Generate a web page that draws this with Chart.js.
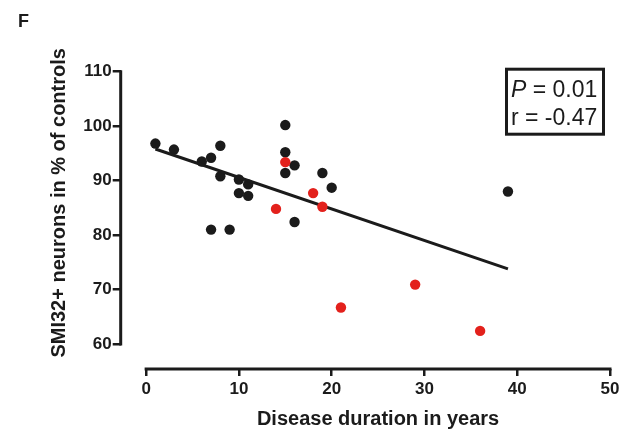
<!DOCTYPE html>
<html>
<head>
<meta charset="utf-8">
<script src="https://cdn.jsdelivr.net/npm/chart.js@4.4.1/dist/chart.umd.min.js"></script>
<style>
  html, body { margin: 0; padding: 0; background: #fff; }
  #wrap { width: 632px; height: 431px; }
</style>
</head>
<body>
<div id="wrap"><canvas id="durationChart" width="632" height="431"></canvas></div>
<script>
// disease duration (years) vs SMI32+ neurons (% of controls)
const blackX = [1, 3, 8, 7, 6, 8, 10, 11, 10, 11, 7, 9, 15, 15, 16, 15, 19, 20, 16, 39];
const blackY = [96.8, 95.7, 96.4, 94.2, 93.5, 90.8, 90.2, 89.3, 87.7, 87.2, 81.0, 81.0, 100.2, 95.2, 92.8, 91.4, 91.4, 88.7, 82.4, 88.0];
const redX = [15, 18, 19, 14, 21, 29, 36];
const redY = [93.4, 87.7, 85.2, 84.8, 66.7, 70.9, 62.4];

// regression line end points
const fitX = [1, 39];
const fitY = [95.8, 73.8];

const xTicks = [0, 10, 20, 30, 40, 50];
const yTicks = [60, 70, 80, 90, 100, 110];

const panelLabel = 'F';
const xTitle = 'Disease duration in years';
const yTitle = 'SMI32+ neurons in % of controls';
const statP = '0.01';
const statR = '-0.47';

const ink = '#1b1b1b';
const red = '#e3211c';
const family = '"Liberation Sans", Arial, Helvetica, sans-serif';

const toPoints = (xs, ys) => xs.map((x, i) => ({ x, y: ys[i] }));

// prism style axes: lines only over the tick range, titles centred on them, plus the stats box
const prismAxes = {
  id: 'prismAxes',
  afterDraw(chart) {
    const { ctx, chartArea, scales: { x, y } } = chart;
    const y0 = y.getPixelForValue(yTicks[0]);
    const y1 = y.getPixelForValue(yTicks[yTicks.length - 1]);
    const x0 = x.getPixelForValue(xTicks[0]);
    const x1 = x.getPixelForValue(xTicks[xTicks.length - 1]);

    ctx.save();
    ctx.strokeStyle = ink;
    ctx.lineWidth = 3;
    ctx.lineCap = 'square';
    ctx.beginPath();
    ctx.moveTo(chartArea.left, y0);
    ctx.lineTo(chartArea.left, y1);
    ctx.moveTo(x0, chartArea.bottom);
    ctx.lineTo(x1, chartArea.bottom);
    ctx.stroke();

    ctx.fillStyle = ink;
    ctx.font = 'bold 20px ' + family;
    ctx.textAlign = 'center';
    ctx.textBaseline = 'middle';
    ctx.fillText(xTitle, (x0 + x1) / 2, x.bottom - 12);

    ctx.save();
    ctx.translate(59, (y0 + y1) / 2 - 5);
    ctx.rotate(-Math.PI / 2);
    ctx.fillText(yTitle, 0, 0);
    ctx.restore();

    // stats box, top right
    const bx = chartArea.right - 105, by = chartArea.top - 4;
    ctx.lineWidth = 3;
    ctx.lineCap = 'butt';
    ctx.strokeRect(bx + 1.5, by + 1.5, 97, 65);
    ctx.textAlign = 'left';
    ctx.textBaseline = 'alphabetic';
    ctx.font = 'italic 23px ' + family;
    ctx.fillText('P', bx + 6, by + 29);
    const pw = ctx.measureText('P').width;
    ctx.font = '23px ' + family;
    ctx.fillText(' = ' + statP, bx + 6 + pw, by + 29);
    ctx.fillText('r = ' + statR, bx + 6, by + 57);
    ctx.restore();
  }
};

const ctx = document.getElementById('durationChart').getContext('2d');

new Chart(ctx, {
  type: 'scatter',
  data: {
    datasets: [
      {
        label: 'red',
        data: toPoints(redX, redY),
        backgroundColor: red,
        borderWidth: 0,
        pointRadius: 5.2
      },
      {
        label: 'fit',
        data: toPoints(fitX, fitY),
        showLine: true,
        borderColor: ink,
        borderWidth: 3,
        pointRadius: 0,
        fill: false
      },
      {
        label: 'black',
        data: toPoints(blackX, blackY),
        backgroundColor: ink,
        borderWidth: 0,
        pointRadius: 5.2
      }
    ]
  },
  options: {
    responsive: false,
    animation: false,
    layout: { padding: { left: 18, top: 4, right: 22, bottom: 0 } },
    plugins: {
      legend: { display: false },
      tooltip: { enabled: false },
      title: {
        display: true,
        text: panelLabel,
        align: 'start',
        color: ink,
        font: { family, size: 18, weight: 'bold' },
        padding: { top: 7, bottom: 39.1 }
      }
    },
    scales: {
      x: {
        type: 'linear',
        min: -2.74,
        max: 50,
        afterBuildTicks: s => { s.ticks = xTicks.map(v => ({ value: v })); },
        afterFit: s => { s.height = 62; },
        border: { display: false },
        grid: { drawOnChartArea: false, tickLength: 7, color: ink, lineWidth: 2.5 },
        ticks: { color: ink, font: { family, size: 17, weight: 'bold' }, padding: 3, maxRotation: 0 }
      },
      y: {
        type: 'linear',
        min: 55.4,
        max: 110,
        afterBuildTicks: s => { s.ticks = yTicks.map(v => ({ value: v })); },
        afterFit: s => { s.width = 102.7; },
        border: { display: false },
        grid: { drawOnChartArea: false, tickLength: 8, color: ink, lineWidth: 2.5 },
        ticks: { color: ink, font: { family, size: 17, weight: 'bold' }, padding: 1 }
      }
    }
  },
  plugins: [prismAxes]
});
</script>
</body>
</html>
